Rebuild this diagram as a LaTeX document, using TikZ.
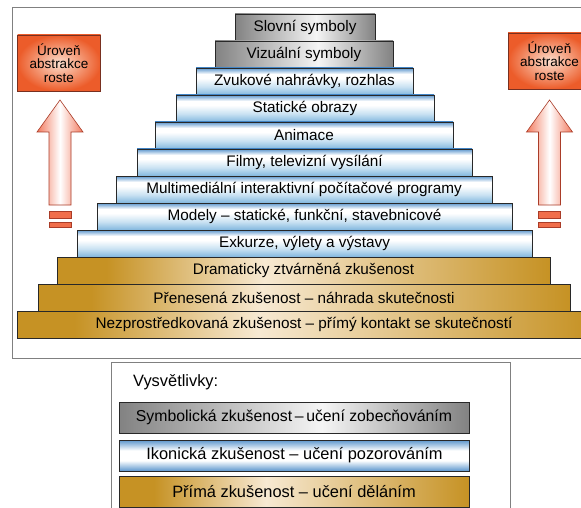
\documentclass[tikz,border=0pt]{standalone}
\usepackage{fontspec}
\setmainfont{Liberation Sans}
\definecolor{goldD}{RGB}{198,146,36}
\definecolor{goldL}{RGB}{247,233,210}
\definecolor{grayD}{RGB}{130,130,130}
\definecolor{grayL}{RGB}{245,245,245}
\definecolor{blueT}{RGB}{92,150,205}
\definecolor{blueB}{RGB}{128,182,222}
\definecolor{blueM}{RGB}{200,225,242}
\definecolor{borderc}{RGB}{40,40,40}
\definecolor{framec}{RGB}{128,128,128}
\definecolor{arrowE}{RGB}{242,122,94}
\definecolor{arrowB}{RGB}{170,60,40}
\definecolor{barc}{RGB}{240,110,75}
\definecolor{boxO}{RGB}{236,92,42}
\definecolor{boxI}{RGB}{252,222,205}
\definecolor{boxB}{RGB}{120,48,32}
\pgfdeclarehorizontalshading{goldsh}{100bp}{color(0bp)=(goldD); color(25bp)=(goldD); color(30bp)=(goldD); color(46bp)=(goldL); color(75bp)=(goldD); color(100bp)=(goldD)}
\pgfdeclarehorizontalshading{graysh}{100bp}{color(0bp)=(grayD); color(25bp)=(grayD); color(54bp)=(grayL); color(75bp)=(grayD); color(100bp)=(grayD)}
\pgfdeclareverticalshading{bluesh}{100bp}{color(0bp)=(blueB); color(25bp)=(blueB); color(40bp)=(blueM); color(56bp)=(white); color(64bp)=(white); color(75bp)=(blueT); color(100bp)=(blueT)}
\pgfdeclareverticalshading{bluelegsh}{100bp}{color(0bp)=(blueT); color(25bp)=(blueT); color(42bp)=(white); color(58bp)=(white); color(75bp)=(blueT); color(100bp)=(blueT)}
\pgfdeclarehorizontalshading{arrowsh}{100bp}{color(0bp)=(arrowE); color(25bp)=(arrowE); color(50bp)=(white); color(75bp)=(arrowE); color(100bp)=(arrowE)}
\newcommand{\lfont}{\fontsize{15.3}{17}\selectfont}
\newcommand{\gfont}{\fontsize{16.4}{18}\selectfont}
\newcommand{\sfontx}{\fontsize{15.8}{18}\selectfont}
\newcommand{\afont}{\fontsize{13.5}{13.5}\selectfont}
\begin{document}
\begin{tikzpicture}[x=1pt,y=-1pt,
  layer/.style={draw=borderc, line width=0.8pt, minimum height=27pt, inner sep=0pt, font=\lfont, shade},
  goldl/.style={layer, shading=goldsh},
  grayl/.style={layer, shading=graysh},
  bluel/.style={layer, shading=bluesh},
  legbox/.style={draw=borderc, line width=0.8pt, minimum width=350pt, minimum height=31pt, inner sep=0pt, font=\gfont, shade},
  abox/.style={draw=boxB, line width=0.6pt, minimum width=83pt, minimum height=56pt, inner sep=0pt, align=center, font=\afont, shade, shading=radial, inner color=boxI, outer color=boxO},
  arr/.style={draw=arrowB, line width=0.6pt, shade, shading=arrowsh},
  bar/.style={draw=arrowB, line width=0.6pt, fill=barc},
  frameline/.style={draw=framec, line width=1pt}]
\useasboundingbox (0,0) rectangle (581,508);
\fill[white] (0,0) rectangle (581,508);
% outer frame
\draw[frameline] (581,8) -- (12,8) -- (12,358) -- (581,358);
% pyramid
\node[grayl, minimum width=140pt] (l1) at (305,27.5) {Slovní symboly};
\node[grayl, minimum width=178pt] (l2) at (304,54.5) {Vizuální symboly};
\node[bluel, minimum width=217pt] (l3) at (304.5,81.5) {Zvukové nahrávky, rozhlas};
\node[bluel, minimum width=258pt] (l4) at (305,108.5) {Statické obrazy};
\node[bluel, minimum width=298pt] (l5) at (304,135.5) {Animace};
\node[bluel, minimum width=335pt] (l6) at (304.5,162.5) {Filmy, televizní vysílání};
\node[bluel, minimum width=376pt] (l7) at (304,189.5) {Multimediální interaktivní počítačové programy};
\node[bluel, minimum width=415pt] (l8) at (304.5,216.5) {Modely – statické, funkční, stavebnicové};
\node[bluel, minimum width=455pt] (l9) at (304.5,243.5) {Exkurze, výlety a výstavy};
\node[goldl, minimum width=493pt] (l10) at (303.5,270.5) {Dramaticky ztvárněná zkušenost};
\node[goldl, minimum width=532pt] (l11) at (304,297.5) {Přenesená zkušenost – náhrada skutečnosti};
\node[goldl, minimum width=574pt] (l12) at (304,324.5) {Nezprostředkovaná zkušenost – přímý kontakt se skutečností};
% side boxes
\node[abox] (al) at (59,63) {Úroveň\\abstrakce\\roste};
\node[abox] (ar) at (549.5,61) {Úroveň\\abstrakce\\roste};
% arrows
\foreach \cx in {60,549.5}{
  \path[arr] (\cx-11,205) -- (\cx-11,132) -- (\cx-23,132) -- (\cx,100) -- (\cx+23,132) -- (\cx+11,132) -- (\cx+11,205) -- cycle;
  \path[bar] (\cx-11,211) rectangle (\cx+11,218);
  \path[bar] (\cx-11,222) rectangle (\cx+11,227);
}
% legend
\draw[frameline] (111,509) -- (111,362) -- (510,362) -- (510,509);
\node[anchor=west, font=\gfont, inner sep=0pt] (vys) at (133,382) {Vysvětlivky:};
\node[legbox, shading=graysh, font=\sfontx] (k1) at (294,417.5) {Symbolická zkušenost\,–\,učení zobecňováním};
\node[legbox, shading=bluelegsh] (k2) at (294.5,455.5) {Ikonická zkušenost – učení pozorováním};
\node[legbox, shading=goldsh] (k3) at (294,492) {Přímá zkušenost – učení děláním};
\end{tikzpicture}
\end{document}
